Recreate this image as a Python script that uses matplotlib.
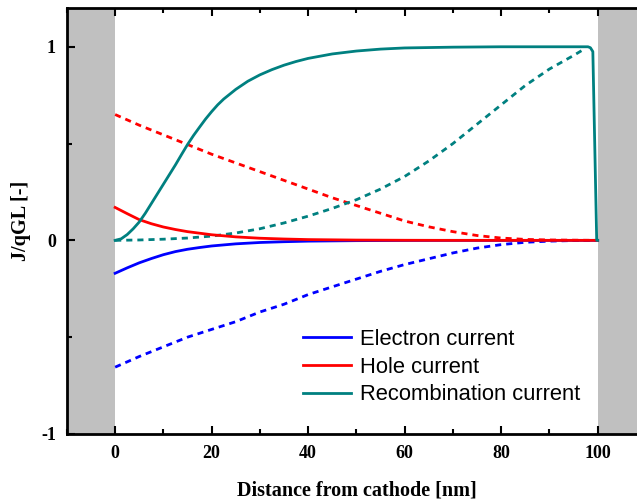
import numpy as np
import matplotlib
matplotlib.use('Agg')
import matplotlib.pyplot as plt

plt.rcParams['axes.unicode_minus'] = False

# Normalised currents across the 100 nm active layer
x_drift = [0, 2.5, 5, 7.5, 10, 12.5, 15, 17.5, 20, 25, 30, 35, 40, 50, 60, 70, 80, 90, 100]
electron_drift = [-0.17, -0.142, -0.116, -0.094, -0.074, -0.058, -0.046, -0.037, -0.029,
                  -0.018, -0.011, -0.007, -0.004, -0.0015, -0.0005, 0, 0, 0, 0]
hole_drift = [0.17, 0.138, 0.107, 0.086, 0.069, 0.056, 0.045, 0.037, 0.029,
              0.018, 0.011, 0.007, 0.004, 0.0015, 0.0005, 0, 0, 0, 0]

x_recomb = [0, 1.25, 2.5, 3.75, 5, 6.25, 7.5, 8.75, 10, 11.25, 12.5, 13.75, 15, 16.25,
            17.5, 18.75, 20, 21.25, 22.5, 25, 27.5, 30, 32.5, 35, 37.5, 40, 45, 50,
            55, 60, 70, 80, 90, 97, 98, 98.5, 99, 99.8, 100]
recomb_drift = [0, 0.008, 0.03, 0.06, 0.095, 0.14, 0.19, 0.24, 0.29, 0.34, 0.39, 0.443,
                0.495, 0.542, 0.585, 0.627, 0.665, 0.7, 0.73, 0.78, 0.822, 0.855, 0.882,
                0.905, 0.924, 0.94, 0.963, 0.978, 0.988, 0.994, 0.998, 1.0, 1.0, 1.0,
                1.0, 0.995, 0.975, 0, 0]

x_diff = [0, 5, 10, 15, 20, 25, 30, 35, 40, 45, 50, 55, 60, 65, 70, 75, 80, 85, 90, 95, 100]
electron_diff = [-0.655, -0.60, -0.55, -0.50, -0.46, -0.42, -0.37, -0.33, -0.28, -0.24,
                 -0.20, -0.16, -0.125, -0.095, -0.065, -0.04, -0.022, -0.01, -0.004,
                 -0.001, 0]
hole_diff = [0.65, 0.595, 0.545, 0.495, 0.445, 0.40, 0.355, 0.31, 0.265, 0.22, 0.18,
             0.14, 0.10, 0.07, 0.045, 0.025, 0.012, 0.005, 0.002, 0.001, 0]

x_recomb_diff = [0, 5, 10, 15, 20, 25, 30, 35, 40, 45, 50, 55, 60, 65, 70, 75, 80, 85, 90, 95, 97]
recomb_diff = [0, 0.002, 0.006, 0.012, 0.022, 0.038, 0.06, 0.09, 0.125, 0.165, 0.21,
               0.265, 0.33, 0.41, 0.50, 0.60, 0.70, 0.80, 0.885, 0.955, 0.985]

blue = '#0000ff'
red = '#ff0000'
teal = '#008080'
dash = (0, (2.2, 1.8))

fig = plt.figure(figsize=(6.37, 5.04), dpi=100)
ax = fig.add_axes([0.105, 0.139, 0.909, 0.845])

# electrode regions
ax.axvspan(-10, 0, color='#c0c0c0', lw=0, zorder=0)
ax.axvspan(100, 110, color='#c0c0c0', lw=0, zorder=0)

ax.plot(x_diff, electron_diff, color=blue, lw=2, ls=dash)
ax.plot(x_diff, hole_diff, color=red, lw=2, ls=dash)
ax.plot(x_recomb_diff, recomb_diff, color=teal, lw=2, ls=dash)

ax.plot(x_drift, electron_drift, color=blue, lw=2, label='Electron current')
ax.plot(x_drift, hole_drift, color=red, lw=2, label='Hole current')
ax.plot(x_recomb, recomb_drift, color=teal, lw=2, label='Recombination current')

ax.set_xlim(-10, 110)
ax.set_ylim(-1, 1.2)
ax.set_xticks([0, 20, 40, 60, 80, 100])
ax.set_xticks(np.arange(-10, 111, 10), minor=True)
ax.set_yticks([-1, 0, 1])
ax.set_yticks([-0.5, 0.5], minor=True)
ax.tick_params(which='both', direction='in', top=True, right=True, width=1.5)
ax.tick_params(which='major', length=6, pad=8)
ax.tick_params(which='minor', length=3.5)
for lab in ax.get_xticklabels() + ax.get_yticklabels():
    lab.set_family('Liberation Serif')
    lab.set_fontweight('bold')
    lab.set_fontsize(13)
for s in ax.spines.values():
    s.set_linewidth(2)

ax.set_xlabel('Distance from cathode [nm]', family='Liberation Serif',
              fontweight='bold', fontsize=14.5, labelpad=13)
ax.set_ylabel('J/qGL [-]', family='Liberation Serif',
              fontweight='bold', fontsize=14.5, labelpad=7)

ax.legend(loc='upper left', bbox_to_anchor=(0.407, 0.246), frameon=False,
          prop={'family': 'Liberation Sans', 'size': 15.8},
          handlelength=2.2, handletextpad=0.4, labelspacing=0.3,
          borderpad=0, borderaxespad=0)

fig.savefig('out.png', dpi=100)
